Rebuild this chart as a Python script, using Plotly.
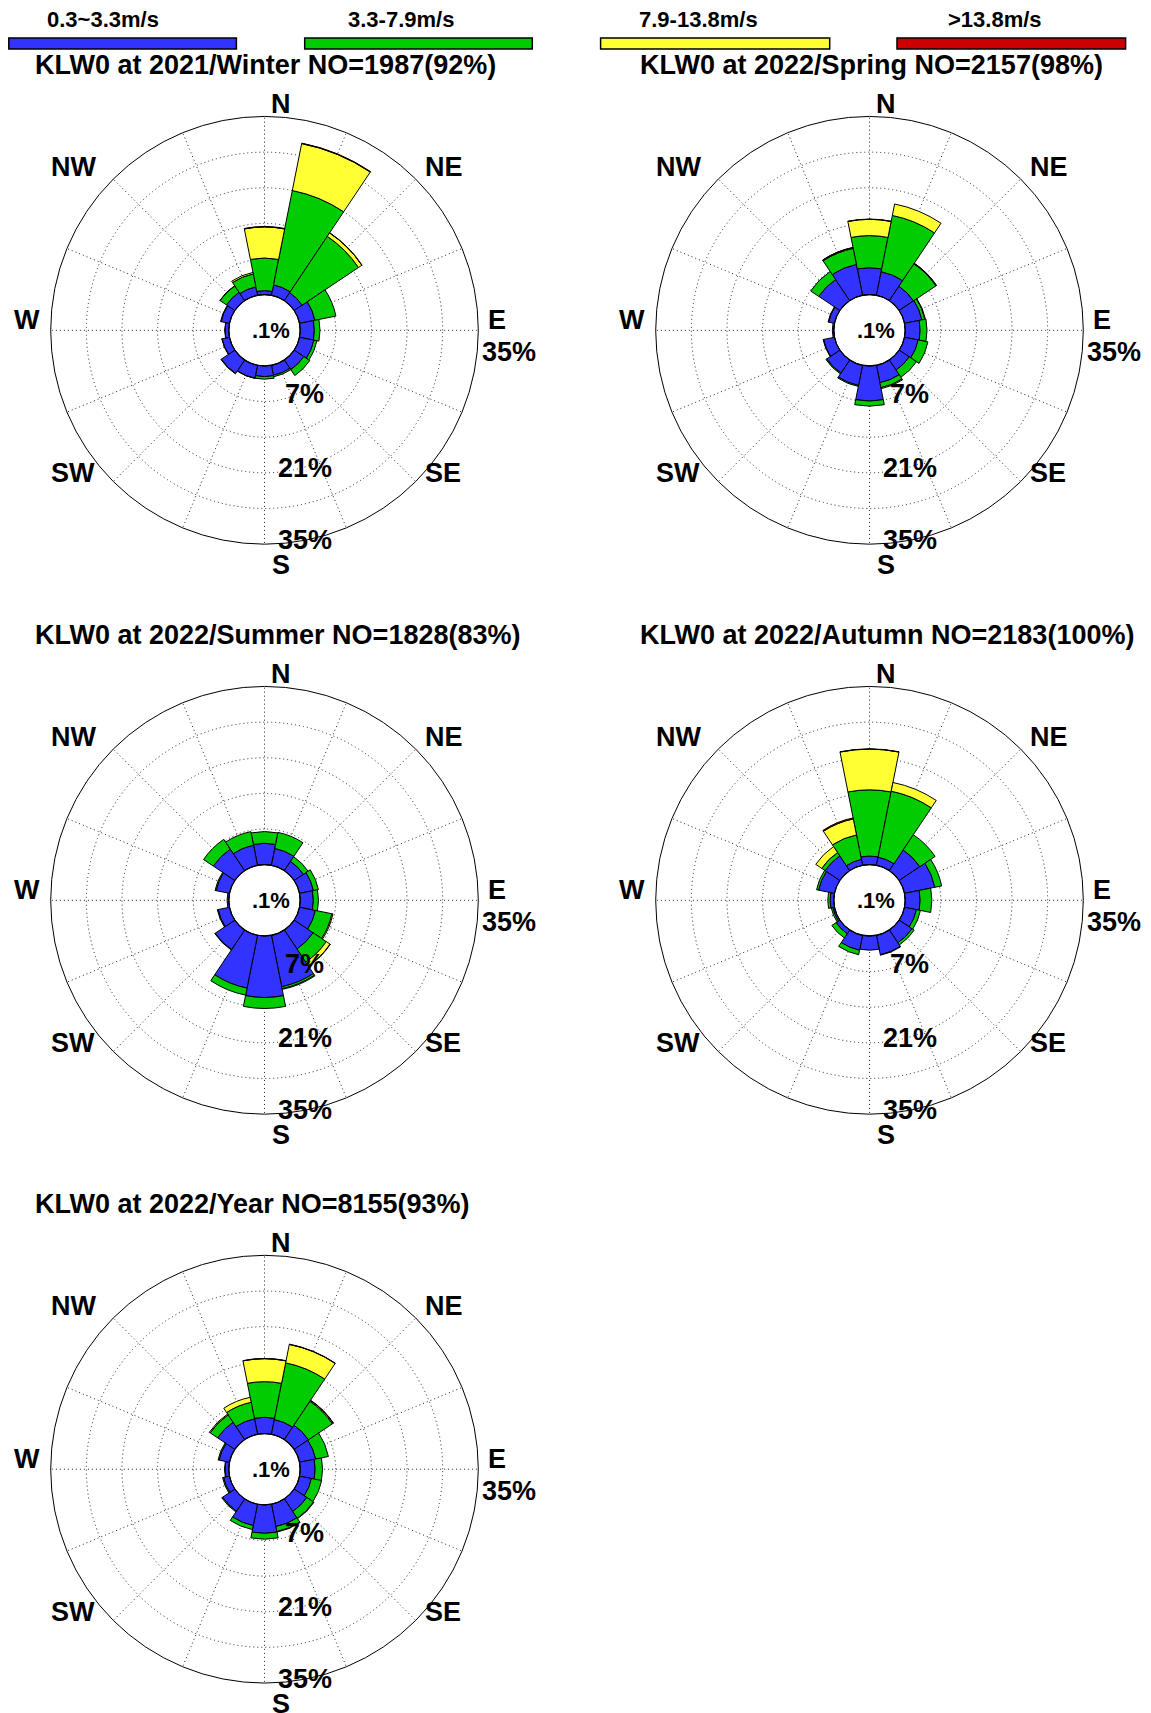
import plotly.graph_objects as go

W, H = 1151, 1713

directions = ["N", "NNE", "NE", "ENE", "E", "ESE", "SE", "SSE",
              "S", "SSW", "SW", "WSW", "W", "WNW", "NW", "NNW"]
speed_bins = ["0.3~3.3m/s", "3.3-7.9m/s", "7.9-13.8m/s", ">13.8m/s"]
bin_colors = ["#3333FF", "#00CC00", "#FFFF33", "#CC0000"]

# frequency (%) per direction for each speed bin
winter_b = [0.8, 2.1, 1.9, 3.1, 2.8, 2.9, 2.3, 2.0, 2.1, 2.6, 3.2, 1.5, 0.75, 1.7, 2.0, 1.7]
winter_g = [6.4, 18.9, 13.3, 4.2, 1.1, 0.6, 1.4, 0.3, 0.5, 0.05, 0.1, 0.05, 0.05, 0.1, 1.5, 2.6]
winter_y = [6.1, 9.4, 0.8, 0.0, 0.0, 0.0, 0.0, 0.0, 0.0, 0.0, 0.0, 0.0, 0.0, 0.0, 0.05, 0.3]
winter_r = [0.1, 0.1, 0.05, 0.0, 0.0, 0.0, 0.0, 0.0, 0.0, 0.0, 0.0, 0.0, 0.0, 0.0, 0.0, 0.0]

spring_b = [5.3, 4.75, 3.4, 3.5, 2.95, 2.75, 2.4, 3.5, 6.9, 4.05, 3.1, 2.2, 0.3, 1.2, 5.0, 6.2]
spring_g = [6.3, 11.25, 5.3, 0.6, 1.35, 1.95, 1.7, 1.0, 1.0, 0.2, 0.2, 0.1, 0.0, 0.1, 1.9, 3.2]
spring_y = [3.2, 2.3, 0.1, 0.1, 0.0, 0.0, 0.0, 0.2, 0.0, 0.0, 0.0, 0.0, 0.0, 0.0, 0.0, 0.15]
spring_r = [0.05, 0.0, 0.05, 0.0, 0.0, 0.0, 0.0, 0.0, 0.0, 0.0, 0.0, 0.0, 0.0, 0.0, 0.0, 0.05]

summer_b = [4.2, 3.4, 2.2, 2.8, 2.6, 3.2, 4.5, 10.3, 12.1, 10.6, 4.65, 2.3, 0.35, 2.7, 5.1, 4.05]
summer_g = [2.3, 3.2, 1.1, 1.0, 1.0, 3.3, 3.1, 0.4, 2.15, 1.4, 0.1, 0.15, 0.0, 0.2, 2.3, 2.7]
summer_y = [0.0, 0.0, 0.0, 0.0, 0.0, 0.2, 0.9, 0.15, 0.0, 0.0, 0.0, 0.0, 0.0, 0.0, 0.0, 0.0]
summer_r = [0.0, 0.0, 0.0, 0.0, 0.0, 0.0, 0.05, 0.0, 0.0, 0.0, 0.0, 0.0, 0.0, 0.0, 0.0, 0.0]

autumn_b = [1.7, 1.65, 4.9, 6.1, 2.95, 2.4, 3.05, 3.9, 2.8, 3.0, 0.9, 0.35, 0.75, 3.2, 3.5, 1.2]
autumn_g = [13.0, 13.2, 3.6, 1.35, 2.3, 0.8, 0.5, 0.1, 0.0, 0.9, 1.0, 0.3, 0.45, 0.4, 0.8, 4.9]
autumn_y = [8.0, 1.75, 0.0, 0.0, 0.0, 0.0, 0.0, 0.0, 0.0, 0.0, 0.0, 0.0, 0.0, 0.0, 1.4, 3.2]
autumn_r = [0.05, 0.0, 0.0, 0.0, 0.0, 0.0, 0.0, 0.0, 0.0, 0.0, 0.0, 0.0, 0.0, 0.0, 0.0, 0.2]

year_b = [3.2, 2.95, 3.4, 3.25, 2.95, 2.4, 3.0, 4.5, 5.6, 4.3, 2.9, 1.2, 0.75, 2.1, 4.1, 3.1]
year_g = [7.0, 11.35, 5.65, 2.55, 1.45, 2.05, 1.6, 1.0, 1.15, 0.8, 0.2, 0.2, 0.1, 0.2, 1.75, 3.3]
year_y = [4.5, 3.7, 0.2, 0.0, 0.0, 0.0, 0.1, 0.1, 0.0, 0.0, 0.0, 0.0, 0.0, 0.0, 0.2, 1.0]
year_r = [0.05, 0.05, 0.05, 0.0, 0.0, 0.0, 0.0, 0.0, 0.0, 0.0, 0.0, 0.0, 0.0, 0.0, 0.0, 0.0]

titles = ["KLW0 at 2021/Winter NO=1987(92%)",
          "KLW0 at 2022/Spring NO=2157(98%)",
          "KLW0 at 2022/Summer NO=1828(83%)",
          "KLW0 at 2022/Autumn NO=2183(100%)",
          "KLW0 at 2022/Year NO=8155(93%)"]
roses = [
    (winter_b, winter_g, winter_y, winter_r),
    (spring_b, spring_g, spring_y, spring_r),
    (summer_b, summer_g, summer_y, summer_r),
    (autumn_b, autumn_g, autumn_y, autumn_r),
    (year_b, year_g, year_y, year_r),
]
compass_labels = ["N", "NE", "E", "SE", "S", "SW", "W", "NW"]
ring_labels = ["7%", "21%", "35%"]
center_label = ".1%"

# ---------------- layout geometry (pixels) ----------------
centers = [(264.5, 330.3), (869.5, 330.3), (264.5, 900.3), (869.5, 900.3), (264.5, 1469.2)]
R = 213.8
HOLE = 1.0 / 6.0
compass_off = [(16, -226.6), (179, -163.3), (232.4, -10.3), (178, 142.7),
               (16, 234.3), (-191.3, 142.7), (-237.2, -10.3), (-191.3, -163.3)]
ring_off = [(40, 64), (40.5, 137.4), (40.5, 209.7)]
FONT = "Liberation Sans, Arial, Helvetica, sans-serif"
GRID = dict(gridcolor="#222", griddash="1px,3px", gridwidth=1)


def px(x):
    return x / W


def py(y):
    return 1 - y / H


fig = go.Figure()
annotations = []
shapes = []
layout_polars = {}


def label(text, x, y, size, xanchor="center"):
    annotations.append(dict(text=text, x=px(x), y=py(y), xref="paper", yref="paper",
                            xanchor=xanchor, yanchor="middle", showarrow=False,
                            font=dict(family=FONT, size=size, color="black", weight="bold")))


for i, ((cx, cy), data, title) in enumerate(zip(centers, roses, titles)):
    pname = "polar" if i == 0 else f"polar{i + 1}"
    for series, name, col in zip(data, speed_bins, bin_colors):
        fig.add_trace(go.Barpolar(
            r=series, theta=directions, name=name,
            marker=dict(color=col, line=dict(color="black", width=1)),
            subplot=pname, showlegend=False,
        ))
    layout_polars[pname] = dict(
        domain=dict(x=[px(cx - R), px(cx + R)], y=[py(cy + R), py(cy - R)]),
        hole=HOLE, bgcolor="white", barmode="stack", bargap=0,
        radialaxis=dict(range=[0, 35], tickvals=[7, 14, 21, 28], showticklabels=False,
                        ticks="", showline=False, layer="above traces", **GRID),
        angularaxis=dict(type="category", categoryarray=directions, direction="clockwise",
                         rotation=90, showticklabels=False, ticks="", showline=True,
                         linecolor="black", linewidth=1, layer="above traces", **GRID),
    )
    rh = R * HOLE
    shapes.append(dict(type="circle", xref="paper", yref="paper",
                       x0=px(cx - rh), x1=px(cx + rh), y0=py(cy + rh), y1=py(cy - rh),
                       line=dict(color="black", width=1.2)))
    label(title, cx - 231.5, cy - 265, 27, xanchor="left")
    for lab, (dx, dy) in zip(compass_labels, compass_off):
        label(lab, cx + dx, cy + dy, 27)
    for lab, (dx, dy) in zip(ring_labels, ring_off):
        label(lab, cx + dx, cy + dy, 27)
    label("35%", cx + 244.5, cy + 21.7, 27)
    label(center_label, cx + 6.5, cy, 22)

# speed legend (bars + labels)
legend_bars = [(8.8, 236.4), (304.7, 532.3), (600.6, 829.7), (897, 1125.6)]
legend_text_x = [103, 401, 698.6, 995]
for (x0, x1), col, lab, tx in zip(legend_bars, bin_colors, speed_bins, legend_text_x):
    shapes.append(dict(type="rect", xref="paper", yref="paper",
                       x0=px(x0), x1=px(x1), y0=py(49), y1=py(38),
                       fillcolor=col, line=dict(color="black", width=1.5)))
    label(lab, tx, 20, 22)

fig.update_layout(
    width=W, height=H, margin=dict(l=0, r=0, t=0, b=0),
    paper_bgcolor="white", plot_bgcolor="white",
    showlegend=False, annotations=annotations, shapes=shapes,
    **layout_polars,
)
fig.write_html("out.html", config={"displayModeBar": False},
               post_script="document.body.style.margin='0px';document.body.style.overflow='hidden';")
